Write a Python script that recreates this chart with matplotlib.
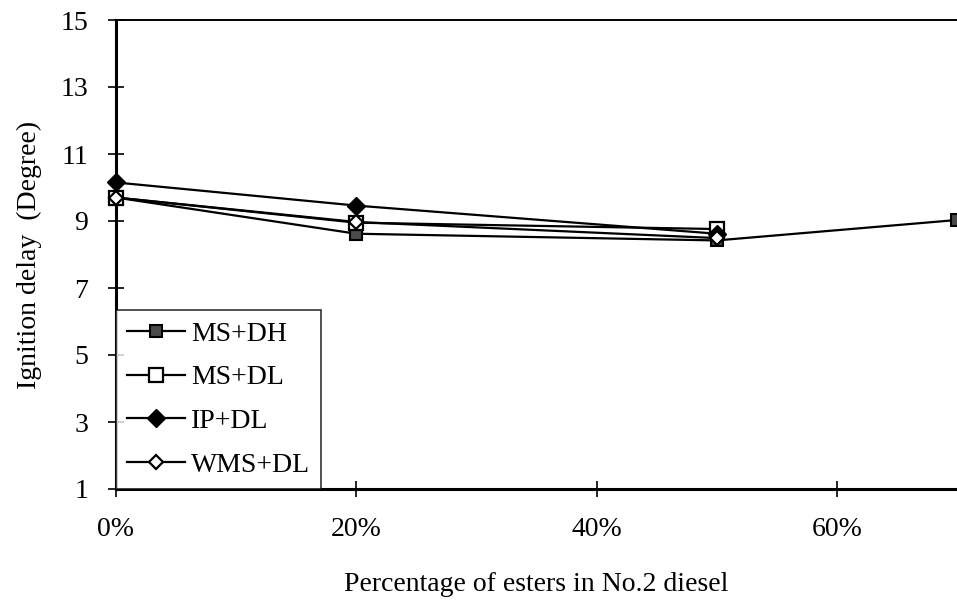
import matplotlib
matplotlib.use('Agg')
import matplotlib.pyplot as plt
from matplotlib.ticker import FuncFormatter

# ester percentage in the blend
x_ms_dh = [0, 20, 50, 70]
x_other = [0, 20, 50]

ms_dh = [9.7, 8.62, 8.42, 9.03]
ms_dl = [9.7, 8.95, 8.76]
ip_dl = [10.15, 9.46, 8.62]
wms_dl = [9.7, 8.97, 8.49]

labels = ['MS+DH', 'MS+DL', 'IP+DL', 'WMS+DL']
y_ticks = [1, 3, 5, 7, 9, 11, 13, 15]
x_ticks = [0, 20, 40, 60]

plt.rcParams['font.family'] = ['Liberation Serif', 'DejaVu Serif']

fig = plt.figure(figsize=(9.57, 6.07), dpi=100)
ax = fig.add_axes([116 / 957, 1 - 489 / 607, 1 - 116 / 957, (489 - 20) / 607])

lw = 1.6
ax.plot(x_ms_dh, ms_dh, color='black', lw=lw, marker='s', ms=9,
        mfc='#4a4a4a', mec='black', mew=1.5, label=labels[0], zorder=3, clip_on=False)
ax.plot(x_other, ms_dl, color='black', lw=lw, marker='s', ms=10,
        mfc='white', mec='black', mew=1.6, label=labels[1], zorder=3, clip_on=False)
ax.plot(x_other, ip_dl, color='black', lw=lw, marker='D', ms=9,
        mfc='black', mec='black', label=labels[2], zorder=4, clip_on=False)
ax.plot(x_other, wms_dl, color='black', lw=lw, marker='D', ms=7,
        mfc='white', mec='black', mew=1.6, label=labels[3], zorder=5, clip_on=False)

ax.set_xlim(0, 70)
ax.set_ylim(1, 15)
ax.set_xticks(x_ticks)
ax.set_yticks(y_ticks)
ax.xaxis.set_major_formatter(FuncFormatter(lambda v, p: f'{int(v)}%'))
ax.tick_params(axis='both', direction='inout', length=12, width=1.2,
               labelsize=20, colors='black')
ax.tick_params(axis='x', pad=14)
ax.tick_params(axis='y', pad=14)

for side in ['left', 'bottom']:
    ax.spines[side].set_linewidth(2.2)
ax.spines['top'].set_linewidth(1.4)
ax.spines['right'].set_visible(False)

ax.set_xlabel('Percentage of esters in No.2 diesel', fontsize=20, labelpad=22)
ax.set_ylabel('Ignition delay  (Degree)', fontsize=20, labelpad=13)

leg = ax.legend(loc='lower left', bbox_to_anchor=(0.0, 0.0), fontsize=20,
                frameon=True, fancybox=False, edgecolor='black',
                handlelength=2.1, handletextpad=0.2, labelspacing=0.66,
                borderpad=0.4, borderaxespad=0)
leg.get_frame().set_linewidth(1.2)

fig.savefig('out.png', dpi=100)
